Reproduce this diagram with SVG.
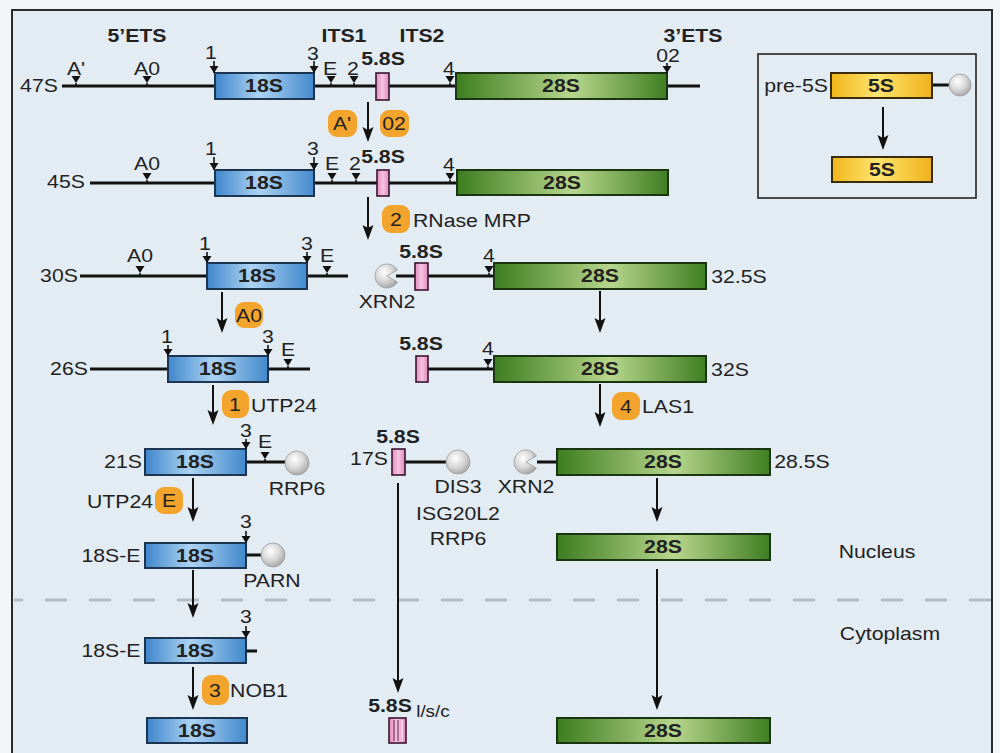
<svg xmlns="http://www.w3.org/2000/svg" width="1000" height="753" viewBox="0 0 1000 753">
<defs>
<linearGradient id="g18" x1="0" x2="1" y1="0" y2="0"><stop offset="0" stop-color="#3f86cc"/><stop offset="0.45" stop-color="#acd3f3"/><stop offset="1" stop-color="#4389cc"/></linearGradient>
<linearGradient id="g28" x1="0" x2="1" y1="0" y2="0"><stop offset="0" stop-color="#3d7d20"/><stop offset="0.55" stop-color="#b7d68c"/><stop offset="1" stop-color="#3f7e22"/></linearGradient>
<linearGradient id="g5" x1="0" x2="1" y1="0" y2="0"><stop offset="0" stop-color="#f2b51a"/><stop offset="0.45" stop-color="#fde56f"/><stop offset="1" stop-color="#f0b21a"/></linearGradient>
<linearGradient id="gp" x1="0" x2="1" y1="0" y2="0"><stop offset="0" stop-color="#e48cc0"/><stop offset="0.5" stop-color="#f6c3e0"/><stop offset="1" stop-color="#e08abc"/></linearGradient>
<radialGradient id="gs" cx="0.4" cy="0.35" r="0.7"><stop offset="0" stop-color="#ffffff"/><stop offset="0.5" stop-color="#dadada"/><stop offset="1" stop-color="#a4a4a4"/></radialGradient>
<marker id="ah" markerWidth="16" markerHeight="12" refX="7" refY="0" viewBox="0 -6 16 12" orient="auto" markerUnits="userSpaceOnUse"><path d="M0,-5.5 L15,0 L0,5.5 L3,0 Z" fill="#111"/></marker>
<path id="tri" d="M-4.5,-7 L4.5,-7 L0,0 Z" fill="#111"/>
</defs>
<style>
text{font-family:"Liberation Sans",Arial,sans-serif;font-size:18px;fill:#222;text-anchor:middle;transform-box:fill-box;transform-origin:center;transform:scaleX(1.18)}
.b{font-weight:bold}
.s{font-size:16px}
.r18{fill:url(#g18);stroke:#1c3550;stroke-width:2}
.r28{fill:url(#g28);stroke:#1a3510;stroke-width:2}
.r5{fill:url(#g5);stroke:#3a2c08;stroke-width:2}
.rp{fill:url(#gp);stroke:#3a1430;stroke-width:1.6}
.ln{stroke:#111;stroke-width:3;fill:none}
.st{stroke:#111;stroke-width:1.6}
.sp{fill:url(#gs);stroke:#9a9a9a;stroke-width:0.8}
.bd{fill:#f3a42c}
.ar{stroke:#111;stroke-width:2;fill:none;marker-end:url(#ah)}
</style>
<rect x="0" y="0" width="1000" height="753" fill="#f3f6f9"/>
<rect x="12" y="10" width="980" height="760" fill="#e3ecf3" stroke="#2a2a2a" stroke-width="2"/>
<line x1="14" y1="600" x2="991" y2="600" stroke="#b4bcc4" stroke-width="3" stroke-dasharray="22 22" stroke-dashoffset="13"/>

<g id="region-labels">
<text class="b" x="137" y="42">5’ETS</text>
<text class="b" x="344" y="42">ITS1</text>
<text class="b" x="422" y="42">ITS2</text>
<text class="b" x="693" y="42">3’ETS</text>
<text x="877" y="558">Nucleus</text>
<text x="890" y="640">Cytoplasm</text>
</g>

<g id="connectors">
<line class="ar" x1="368" y1="102" x2="368" y2="134"/>
<line class="ar" x1="368" y1="197" x2="368" y2="232"/>
<line class="ar" x1="222" y1="292" x2="222" y2="325"/>
<line class="ar" x1="213" y1="385" x2="213" y2="417"/>
<line class="ar" x1="600" y1="291" x2="600" y2="325"/>
<line class="ar" x1="600" y1="384" x2="600" y2="419"/>
<line class="ar" x1="193" y1="478" x2="193" y2="514"/>
<line class="ar" x1="193" y1="570" x2="193" y2="610"/>
<line class="ar" x1="193" y1="667" x2="193" y2="702"/>
<line class="ar" x1="398" y1="483" x2="398" y2="685"/>
<line class="ar" x1="657" y1="478" x2="657" y2="514"/>
<line class="ar" x1="657" y1="569" x2="657" y2="702"/>
<line class="ar" x1="883" y1="107" x2="883" y2="142"/>
</g>

<g id="badges">
<rect class="bd" x="328" y="110" width="29" height="27" rx="9"/><text x="342" y="130">A'</text>
<rect class="bd" x="380" y="110" width="29" height="27" rx="9"/><text x="394" y="130">02</text>
<rect class="bd" x="382" y="205" width="28" height="28" rx="9"/><text x="396" y="226">2</text>
<text x="472" y="227">RNase MRP</text>
<rect class="bd" x="235" y="302" width="28" height="26" rx="9"/><text x="249" y="322">A0</text>
<rect class="bd" x="222" y="390" width="27" height="28" rx="9"/><text x="235" y="411">1</text>
<text x="284" y="412">UTP24</text>
<rect class="bd" x="612" y="392" width="28" height="28" rx="9"/><text x="626" y="413">4</text>
<text x="668" y="413">LAS1</text>
<rect class="bd" x="155" y="487" width="28" height="27" rx="9"/><text x="169" y="507">E</text>
<text x="120" y="508">UTP24</text>
<rect class="bd" x="202" y="675" width="27" height="30" rx="9"/><text x="215" y="697">3</text>
<text x="259" y="697">NOB1</text>
</g>

<g id="n47S">
<line class="ln" x1="62" y1="86" x2="700" y2="86"/>
<text x="39" y="92">47S</text>
<rect class="r18" x="215" y="73" width="99" height="26"/><text class="b" x="264" y="92">18S</text>
<rect class="rp" x="376" y="73" width="13" height="27"/><text class="b" x="383" y="65">5.8S</text>
<rect class="r28" x="456" y="73" width="211" height="26"/><text class="b" x="561" y="92">28S</text>
<use href="#tri" x="76" y="83"/><line class="st" x1="76" y1="83" x2="76" y2="86"/><text x="76" y="75">A'</text>
<use href="#tri" x="147" y="83"/><line class="st" x1="147" y1="83" x2="147" y2="86"/><text x="147" y="75">A0</text>
<line class="st" x1="214" y1="61" x2="214" y2="73"/><use href="#tri" x="214" y="73"/><text x="211" y="59">1</text>
<line class="st" x1="314" y1="61" x2="314" y2="73"/><use href="#tri" x="314" y="73"/><text x="313" y="60">3</text>
<use href="#tri" x="331" y="83"/><line class="st" x1="331" y1="83" x2="331" y2="86"/><text x="330" y="75">E</text>
<use href="#tri" x="354" y="83"/><line class="st" x1="354" y1="83" x2="354" y2="86"/><text x="353" y="75">2</text>
<use href="#tri" x="450" y="83"/><line class="st" x1="450" y1="83" x2="450" y2="86"/><text x="449" y="75">4</text>
<line class="st" x1="667" y1="63" x2="667" y2="73"/><use href="#tri" x="667" y="73"/><text x="668" y="62">02</text>
</g>

<g id="n45S">
<line class="ln" x1="90" y1="183" x2="457" y2="183"/>
<text x="66" y="188">45S</text>
<rect class="r18" x="215" y="170" width="99" height="26"/><text class="b" x="264" y="189">18S</text>
<rect class="rp" x="377" y="170" width="12" height="26"/><text class="b" x="383" y="163">5.8S</text>
<rect class="r28" x="457" y="170" width="211" height="25"/><text class="b" x="562" y="189">28S</text>
<use href="#tri" x="147" y="180"/><line class="st" x1="147" y1="180" x2="147" y2="183"/><text x="147" y="170">A0</text>
<line class="st" x1="214" y1="157" x2="214" y2="170"/><use href="#tri" x="214" y="170"/><text x="211" y="155">1</text>
<line class="st" x1="314" y1="157" x2="314" y2="170"/><use href="#tri" x="314" y="170"/><text x="313" y="155">3</text>
<use href="#tri" x="332" y="180"/><line class="st" x1="332" y1="180" x2="332" y2="183"/><text x="332" y="170">E</text>
<use href="#tri" x="356" y="180"/><line class="st" x1="356" y1="180" x2="356" y2="183"/><text x="355" y="170">2</text>
<use href="#tri" x="450" y="180"/><line class="st" x1="450" y1="180" x2="450" y2="183"/><text x="449" y="171">4</text>
</g>

<g id="n30S">
<line class="ln" x1="80" y1="276" x2="348" y2="276"/>
<text x="59" y="282">30S</text>
<rect class="r18" x="207" y="263" width="100" height="26"/><text class="b" x="257" y="282">18S</text>
<use href="#tri" x="140" y="273"/><line class="st" x1="140" y1="273" x2="140" y2="276"/><text x="140" y="262">A0</text>
<line class="st" x1="207" y1="252" x2="207" y2="263"/><use href="#tri" x="207" y="263"/><text x="205" y="250">1</text>
<line class="st" x1="307" y1="252" x2="307" y2="263"/><use href="#tri" x="307" y="263"/><text x="307" y="250">3</text>
<use href="#tri" x="327" y="273"/><line class="st" x1="327" y1="273" x2="327" y2="276"/><text x="327" y="262">E</text>
</g>

<g id="n32-5S">
<line class="ln" x1="396" y1="276" x2="494" y2="276"/>
<path class="sp" d="M387,276 L397.4,270 A12,12 0 1 0 397.4,282 Z"/>
<text x="387" y="308">XRN2</text>
<rect class="rp" x="415" y="263" width="13" height="27"/><text class="b" x="421" y="258">5.8S</text>
<use href="#tri" x="489" y="273"/><line class="st" x1="489" y1="273" x2="489" y2="276"/><text x="489" y="262">4</text>
<rect class="r28" x="494" y="263" width="212" height="26"/><text class="b" x="600" y="282">28S</text>
<text x="739" y="283">32.5S</text>
</g>

<g id="n26S">
<line class="ln" x1="90" y1="369" x2="310" y2="369"/>
<text x="69" y="375">26S</text>
<rect class="r18" x="168" y="356" width="100" height="26"/><text class="b" x="218" y="375">18S</text>
<line class="st" x1="168" y1="345" x2="168" y2="356"/><use href="#tri" x="168" y="356"/><text x="167" y="343">1</text>
<line class="st" x1="268" y1="345" x2="268" y2="356"/><use href="#tri" x="268" y="356"/><text x="268" y="343">3</text>
<use href="#tri" x="288" y="366"/><line class="st" x1="288" y1="366" x2="288" y2="369"/><text x="288" y="356">E</text>
</g>

<g id="n32S">
<line class="ln" x1="428" y1="369" x2="494" y2="369"/>
<rect class="rp" x="416" y="356" width="12" height="26"/><text class="b" x="421" y="350">5.8S</text>
<use href="#tri" x="488" y="366"/><line class="st" x1="488" y1="366" x2="488" y2="369"/><text x="488" y="355">4</text>
<rect class="r28" x="494" y="356" width="212" height="26"/><text class="b" x="600" y="375">28S</text>
<text x="730" y="376">32S</text>
</g>

<g id="n21S">
<line class="ln" x1="246" y1="462" x2="287" y2="462"/>
<circle class="sp" cx="297" cy="463" r="12"/>
<text x="297" y="495">RRP6</text>
<text x="123" y="468">21S</text>
<rect class="r18" x="145" y="449" width="101" height="26"/><text class="b" x="195" y="468">18S</text>
<line class="st" x1="246" y1="439" x2="246" y2="449"/><use href="#tri" x="246" y="449"/><text x="246" y="437">3</text>
<use href="#tri" x="265" y="459"/><line class="st" x1="265" y1="459" x2="265" y2="462"/><text x="265" y="448">E</text>
</g>

<g id="n17S">
<line class="ln" x1="405" y1="462" x2="448" y2="462"/>
<circle class="sp" cx="458" cy="462" r="12"/>
<rect class="rp" x="392" y="449" width="13" height="26"/>
<text class="b" x="398" y="443">5.8S</text>
<text x="369" y="465">17S</text>
<text x="458" y="493">DIS3</text>
<text x="458" y="520">ISG20L2</text>
<text x="458" y="545">RRP6</text>
</g>

<g id="n28-5S">
<line class="ln" x1="537" y1="462" x2="557" y2="462"/>
<path class="sp" d="M526,462 L536.4,456 A12,12 0 1 0 536.4,468 Z"/>
<text x="526" y="493">XRN2</text>
<rect class="r28" x="557" y="449" width="213" height="26"/><text class="b" x="663" y="468">28S</text>
<text x="802" y="468">28.5S</text>
</g>

<g id="n18S-E-nuc">
<line class="ln" x1="246" y1="555" x2="262" y2="555"/>
<circle class="sp" cx="273" cy="555" r="12"/>
<text x="272" y="587">PARN</text>
<text x="111" y="562">18S-E</text>
<rect class="r18" x="145" y="543" width="101" height="25"/><text class="b" x="195" y="562">18S</text>
<line class="st" x1="246" y1="531" x2="246" y2="543"/><use href="#tri" x="246" y="543"/><text x="246" y="528">3</text>
</g>

<g id="n28S-nuc">
<rect class="r28" x="557" y="534" width="213" height="26"/><text class="b" x="663" y="553">28S</text>
</g>

<g id="n18S-E-cyt">
<line class="ln" x1="246" y1="651" x2="257" y2="651"/>
<text x="111" y="657">18S-E</text>
<rect class="r18" x="145" y="638" width="101" height="25"/><text class="b" x="195" y="657">18S</text>
<line class="st" x1="246" y1="626" x2="246" y2="638"/><use href="#tri" x="246" y="638"/><text x="246" y="623">3</text>
</g>

<g id="n18S">
<rect class="r18" x="147" y="718" width="100" height="25"/><text class="b" x="197" y="737">18S</text>
</g>

<g id="n5-8S">
<text class="b" x="390" y="712">5.8S</text>
<text class="s" x="433" y="717">l/s/c</text>
<rect class="rp" x="389" y="718" width="17" height="25"/>
<line x1="394" y1="720" x2="394" y2="741" stroke="#5a2448" stroke-width="1"/>
<line x1="398" y1="720" x2="398" y2="741" stroke="#5a2448" stroke-width="1"/>
<line x1="402" y1="720" x2="402" y2="741" stroke="#fff" stroke-width="1"/>
</g>

<g id="n28S">
<rect class="r28" x="557" y="718" width="213" height="25"/><text class="b" x="663" y="737">28S</text>
</g>

<g id="inset-5S">
<rect x="758" y="54" width="218" height="144" fill="none" stroke="#222" stroke-width="1.6"/>
<text x="796" y="92">pre-5S</text>
<line class="ln" x1="932" y1="85" x2="950" y2="85"/>
<circle class="sp" cx="960" cy="85" r="11"/>
<rect class="r5" x="831" y="73" width="101" height="25"/><text class="b" x="881" y="92">5S</text>
<rect class="r5" x="832" y="157" width="100" height="25"/><text class="b" x="882" y="176">5S</text>
</g>
</svg>
